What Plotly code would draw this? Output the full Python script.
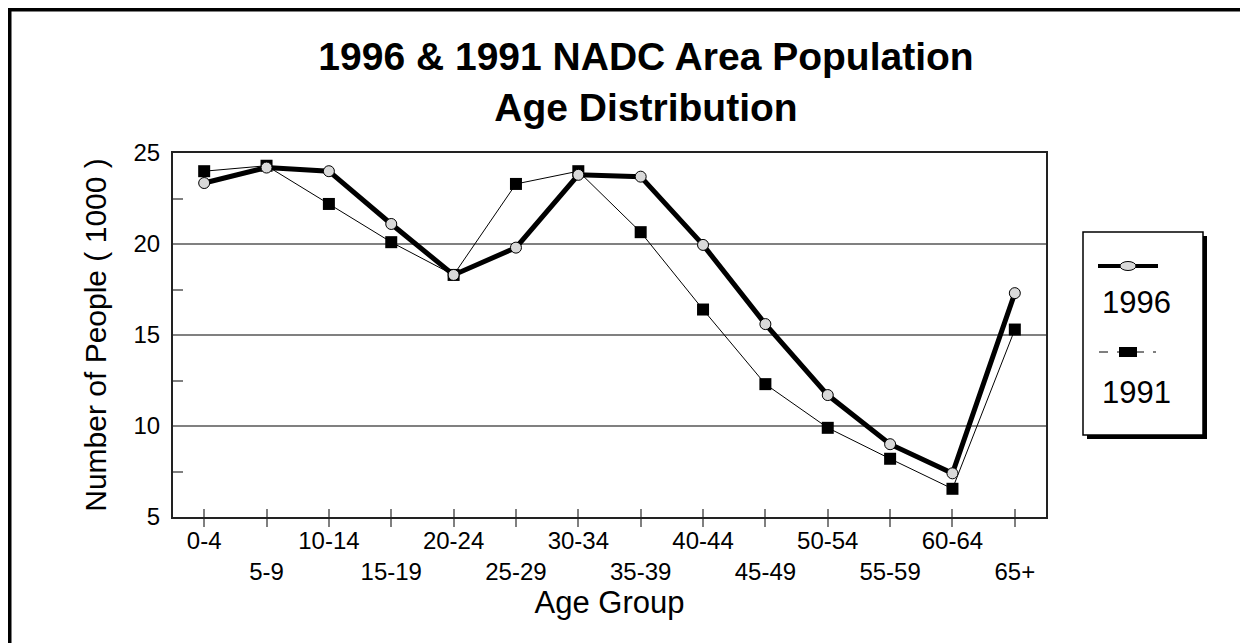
import plotly.graph_objects as go

# age groups and population (thousands)
age_groups = ["0-4", "5-9", "10-14", "15-19", "20-24", "25-29", "30-34",
              "35-39", "40-44", "45-49", "50-54", "55-59", "60-64", "65+"]
pop_1996 = [23.35, 24.2, 24.0, 21.1, 18.3, 19.8, 23.8,
            23.7, 19.95, 15.6, 11.7, 9.0, 7.4, 17.3]
pop_1991 = [24.0, 24.3, 22.2, 20.1, 18.3, 23.3, 24.0,
            20.65, 16.4, 12.3, 9.9, 8.2, 6.55, 15.3]
y_ticks = [5, 10, 15, 20, 25]

OFF = 8                      # page body margin; figure sits 8px in
W, H = 1248 - OFF, 643 - OFF
L, R, T, B = 173, 1046, 153, 517   # plot area, page pixels
FONT = "Liberation Sans, Arial, sans-serif"


def px(x):
    return (x - L) / (R - L)


def py(y):
    return (B - y) / (B - T)


pos = list(range(len(age_groups)))
tick_text = [g if i % 2 == 0 else "<br>" + g for i, g in enumerate(age_groups)]

fig = go.Figure()
fig.add_scatter(x=pos, y=pop_1991, mode="lines+markers", name="1991",
                line=dict(color="black", width=1),
                marker=dict(symbol="square", size=12, color="black"),
                showlegend=False)
fig.add_scatter(x=pos, y=pop_1996, mode="lines+markers", name="1996",
                line=dict(color="black", width=5),
                marker=dict(symbol="circle", size=11, color="#d9d9d9",
                            line=dict(color="black", width=1)),
                showlegend=False)
# empty trace so the overlay axis (upper half of the crossing x ticks) is drawn
fig.add_scatter(x=[], y=[], xaxis="x2", showlegend=False, hoverinfo="skip")

shapes = [
    # page frame (top and left edges visible)
    dict(type="line", xref="paper", yref="paper", x0=px(OFF), x1=px(1300), y0=py(OFF), y1=py(OFF),
         line=dict(color="black", width=7)),
    dict(type="line", xref="paper", yref="paper", x0=px(OFF), x1=px(OFF), y0=py(OFF), y1=py(700),
         line=dict(color="black", width=7)),
    # legend shadow and box
    dict(type="rect", xref="paper", yref="paper", x0=px(1087), x1=px(1207), y0=py(439), y1=py(236),
         fillcolor="black", line=dict(width=0)),
    dict(type="rect", xref="paper", yref="paper", x0=px(1083), x1=px(1203), y0=py(435), y1=py(232),
         fillcolor="white", line=dict(color="black", width=1.5)),
    # legend symbols
    dict(type="line", xref="paper", yref="paper", x0=px(1098), x1=px(1158), y0=py(266), y1=py(266),
         line=dict(color="black", width=4)),
    dict(type="circle", xref="paper", yref="paper", x0=px(1120), x1=px(1136), y0=py(270.5), y1=py(261.5),
         fillcolor="#d9d9d9", line=dict(color="black", width=1)),
    dict(type="line", xref="paper", yref="paper", x0=px(1099), x1=px(1156), y0=py(352), y1=py(352),
         line=dict(color="black", width=1, dash="dash")),
    dict(type="rect", xref="paper", yref="paper", x0=px(1119), x1=px(1137), y0=py(357), y1=py(347),
         fillcolor="black", line=dict(width=0)),
]

annotations = [
    dict(text="1996", xref="paper", yref="paper", x=px(1100), y=py(302), xanchor="left",
         yanchor="middle", showarrow=False, font=dict(size=31, color="black", family=FONT)),
    dict(text="1991", xref="paper", yref="paper", x=px(1100), y=py(392), xanchor="left",
         yanchor="middle", showarrow=False, font=dict(size=31, color="black", family=FONT)),
]

fig.update_layout(
    width=W, height=H,
    margin=dict(l=L - OFF, r=W - (R - OFF), t=T - OFF, b=H - (B - OFF)),
    paper_bgcolor="white", plot_bgcolor="white",
    font=dict(family=FONT, color="black"),
    title=dict(text="<b>1996 & 1991 NADC Area Population<br>Age Distribution</b>",
               x=(646 - OFF) / W, xanchor="center", xref="container",
               y=1 - 62 / H, yanchor="top", yref="container",
               font=dict(size=39, color="black", family=FONT)),
    shapes=shapes,
    annotations=annotations,
    xaxis=dict(range=[-0.5, len(age_groups) - 0.5], tickvals=pos, ticktext=tick_text,
               ticks="outside", ticklen=8, tickwidth=1.5, tickcolor="#808080",
               showgrid=False, zeroline=False, tickangle=0,
               showline=True, linecolor="#222", linewidth=2, mirror=True,
               tickfont=dict(size=24), ticklabelstandoff=-7,
               title=dict(text="Age Group", font=dict(size=31), standoff=6)),
    xaxis2=dict(overlaying="x", range=[-0.5, len(age_groups) - 0.5], tickvals=pos,
                showticklabels=False, ticks="inside", ticklen=8, tickwidth=1.5,
                tickcolor="#808080", showgrid=False, zeroline=False, showline=False),
    yaxis=dict(range=[5, 25], tickvals=y_ticks, ticks="",
               showgrid=True, gridcolor="#808080", gridwidth=1.5, zeroline=False,
               showline=True, linecolor="#222", linewidth=2, mirror=True,
               minor=dict(tickvals=[7.5, 12.5, 17.5, 22.5], ticks="inside", ticklen=10,
                          tickcolor="#808080", tickwidth=1.5, showgrid=False),
               tickfont=dict(size=24), ticklabelstandoff=6,
               title=dict(text="Number of People ( 1000 )", font=dict(size=30), standoff=18)),
)

fig.write_html("out.html")
